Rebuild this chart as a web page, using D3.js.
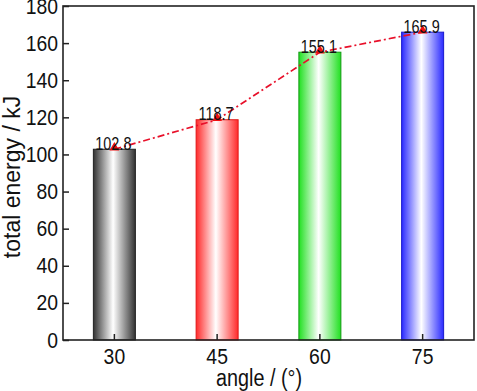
<!DOCTYPE html>
<html><head><meta charset="utf-8">
<script src="https://cdn.jsdelivr.net/npm/d3@7/dist/d3.min.js"></script>
<style>body{margin:0;background:#fff}svg{display:block}text{font-family:"Liberation Sans",Arial,sans-serif}</style>
</head><body>
<script>
const categories = ["30", "45", "60", "75"];
const values = [102.8, 118.7, 155.1, 165.9];
const edgeColors = ["#333333", "#ff2a2a", "#22e022", "#2a2aff"];
const borderColors = ["#222222", "#e01818", "#119911", "#1a1acc"];
const yTicks = [0, 20, 40, 60, 80, 100, 120, 140, 160, 180];

const W = 477, H = 391;
const m = {l: 63, r: 3, t: 6, b: 51};
const svg = d3.select("body").append("svg").attr("width", W).attr("height", H);
const defs = svg.append("defs");
edgeColors.forEach((c, i) => {
  const g = defs.append("linearGradient").attr("id", "g" + i).attr("x1", "0").attr("x2", "1").attr("y1", "0").attr("y2", "0");
  g.append("stop").attr("offset", "0").attr("stop-color", c);
  g.append("stop").attr("offset", "0.47").attr("stop-color", "#fff");
  g.append("stop").attr("offset", "1").attr("stop-color", c);
});

function condense(sel, f) {
  sel.each(function () {
    const L = this.getComputedTextLength();
    d3.select(this).attr("textLength", L * f).attr("lengthAdjust", "spacingAndGlyphs");
  });
}

const x = d3.scaleBand().domain(categories).range([m.l, W - m.r]).padding(0);
const y = d3.scaleLinear().domain([0, 180]).range([H - m.b, m.t]);
const bw = 42;

svg.selectAll("rect.bar").data(values).join("rect").attr("class", "bar")
  .attr("x", (d, i) => x(categories[i]) + x.bandwidth() / 2 - bw / 2)
  .attr("y", d => y(d)).attr("width", bw).attr("height", d => y(0) - y(d))
  .attr("fill", (d, i) => `url(#g${i})`).attr("stroke", (d, i) => borderColors[i]).attr("stroke-width", 1);

// frame
svg.append("rect").attr("x", m.l).attr("y", m.t).attr("width", W - m.r - m.l).attr("height", y(0) - m.t)
  .attr("fill", "none").attr("stroke", "#222").attr("stroke-width", 1.6);

// y axis
const ya = svg.append("g").attr("transform", `translate(${m.l},0)`)
  .call(d3.axisLeft(y).tickValues(yTicks).tickSize(-6).tickPadding(5));
ya.select(".domain").remove();
ya.selectAll("line").attr("stroke", "#222").attr("stroke-width", 1.5);
ya.selectAll("text").attr("font-size", 22).attr("fill", "#111").call(condense, 0.88);

// x axis
const xa = svg.append("g").attr("transform", `translate(0,${y(0)})`)
  .call(d3.axisBottom(x).tickSize(-6).tickPadding(8));
xa.select(".domain").remove();
xa.selectAll("line").attr("stroke", "#222").attr("stroke-width", 1.5);
xa.selectAll("text").attr("font-size", 22).attr("fill", "#111").call(condense, 0.88);

// line
const line = d3.line().x((d, i) => x(categories[i]) + x.bandwidth() / 2).y(d => y(d));
svg.append("path").datum(values).attr("d", line).attr("fill", "none")
  .attr("stroke", "#e8102a").attr("stroke-width", 1.7).attr("stroke-dasharray", "7,3,2,3");

// markers
svg.selectAll("path.mk").data(values).join("path").attr("class", "mk")
  .attr("d", d3.symbol().type(d3.symbolTriangle).size(42))
  .attr("transform", (d, i) => `translate(${x(categories[i]) + x.bandwidth() / 2},${y(d) - 1.5})`)
  .attr("fill", "#f01010");

// value labels
svg.selectAll("text.val").data(values).join("text").attr("class", "val")
  .attr("x", (d, i) => x(categories[i]) + x.bandwidth() / 2 - 1).attr("y", d => y(d) + 0.5)
  .attr("text-anchor", "middle").attr("font-size", 19).attr("fill", "#111")
  .text(d => d.toFixed(1)).call(condense, 0.76);

// titles
svg.append("text").attr("x", 259).attr("y", 386).attr("text-anchor", "middle")
  .attr("font-size", 23).attr("fill", "#111").text("angle / (°)").call(condense, 0.86);
svg.append("text").attr("transform", `translate(20,177) rotate(-90)`).attr("text-anchor", "middle")
  .attr("font-size", 23).attr("fill", "#111").text("total energy / kJ");
</script>
</body></html>
